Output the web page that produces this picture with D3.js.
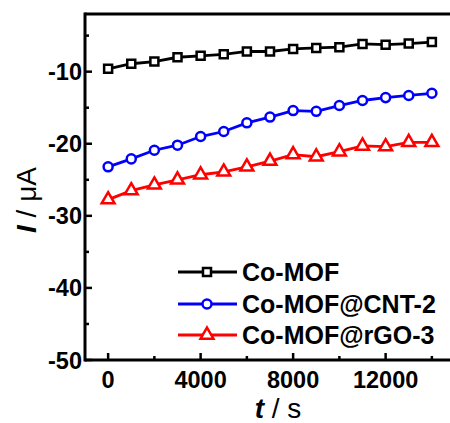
<!DOCTYPE html>
<html><head><meta charset="utf-8">
<script src="https://cdn.jsdelivr.net/npm/d3@7"></script>
<style>body{margin:0;background:#fff}svg{display:block}</style>
</head><body>
<svg id="c" width="450" height="423"></svg>
<script>
const times = [0,1000,2000,3000,4000,5000,6000,7000,8000,9000,10000,11000,12000,13000,14000];
const coMOF = [-9.6,-8.9,-8.6,-8.0,-7.8,-7.6,-7.2,-7.2,-6.85,-6.7,-6.6,-6.15,-6.25,-6.1,-5.9];
const coMOFCNT = [-23.2,-22.1,-20.9,-20.2,-19.0,-18.3,-17.1,-16.3,-15.4,-15.5,-14.7,-14.0,-13.6,-13.3,-13.0];
const coMOFrGO = [-27.75,-26.5,-25.7,-25.0,-24.3,-23.9,-23.2,-22.4,-21.5,-21.8,-21.1,-20.3,-20.4,-19.8,-19.8];
const seriesNames = ["Co-MOF","Co-MOF@CNT-2","Co-MOF@rGO-3"];
const xMajor = [0,4000,8000,12000];
const xMinor = [2000,6000,10000,14000];
const yMajor = [-10,-20,-30,-40,-50];
const yMinor = [-5,-15,-25,-35,-45];

const series = [
  {name: seriesNames[0], values: coMOF, color: "#000000", sym: d3.symbolSquare, size: 64},
  {name: seriesNames[1], values: coMOFCNT, color: "#0000ff", sym: d3.symbolCircle, size: 64},
  {name: seriesNames[2], values: coMOFrGO, color: "#ff0000", sym: d3.symbolTriangle, size: 72}
];

const svg = d3.select("#c");
const L = 85, R = 455, T = 14, B = 360;
const x = d3.scaleLinear().domain([-1000,15000]).range([L,R]);
const y = d3.scaleLinear().domain([-50,-2]).range([B,T]);
const font = "'Liberation Sans', Arial, Helvetica, sans-serif";

// data
const line = d3.line().x((d,i)=>x(times[i])).y(d=>y(d));
series.forEach(s=>{
  svg.append("path").datum(s.values).attr("d", line)
    .attr("fill","none").attr("stroke", s.color).attr("stroke-width", 2.8);
  svg.selectAll(null).data(s.values).enter().append("path")
    .attr("d", d3.symbol().type(s.sym).size(s.size))
    .attr("transform",(d,i)=>`translate(${x(times[i])},${y(d)})`)
    .attr("fill","#fff").attr("stroke", s.color).attr("stroke-width", 2.5);
});

// axes
const ax = svg.append("g");
ax.append("line").attr("x1",L).attr("x2",R).attr("y1",B).attr("y2",B).attr("stroke","#000").attr("stroke-width",3);
ax.append("line").attr("x1",L).attr("x2",R).attr("y1",T).attr("y2",T).attr("stroke","#000").attr("stroke-width",3);
ax.append("line").attr("x1",L).attr("x2",L).attr("y1",T-1.5).attr("y2",B+1.5).attr("stroke","#000").attr("stroke-width",3);

xMajor.forEach(v=>ax.append("line").attr("x1",x(v)).attr("x2",x(v)).attr("y1",B).attr("y2",B-7).attr("stroke","#000").attr("stroke-width",2.5));
xMinor.forEach(v=>ax.append("line").attr("x1",x(v)).attr("x2",x(v)).attr("y1",B).attr("y2",B-4).attr("stroke","#000").attr("stroke-width",2.5));
yMajor.forEach(v=>ax.append("line").attr("x1",L).attr("x2",L+7).attr("y1",y(v)).attr("y2",y(v)).attr("stroke","#000").attr("stroke-width",2.5));
yMinor.forEach(v=>ax.append("line").attr("x1",L).attr("x2",L+4).attr("y1",y(v)).attr("y2",y(v)).attr("stroke","#000").attr("stroke-width",2.5));

xMajor.forEach(v=>ax.append("text").attr("x",x(v)).attr("y",388).attr("text-anchor","middle")
  .attr("font-family",font).attr("font-weight","bold").attr("font-size",23.5).text(v));
yMajor.forEach(v=>ax.append("text").attr("x",L-3).attr("y",y(v)+8.5).attr("text-anchor","end")
  .attr("font-family",font).attr("font-weight","bold").attr("font-size",23.5).text(v));

// axis titles
const xt = svg.append("text").attr("x",278).attr("y",418).attr("text-anchor","middle")
  .attr("font-family",font).attr("font-size",28);
xt.append("tspan").attr("font-weight","bold").attr("font-style","italic").text("t");
xt.append("tspan").text(" / s");
const yt = svg.append("text").attr("transform","translate(36,200) rotate(-90)").attr("text-anchor","middle")
  .attr("font-family",font).attr("font-size",28);
yt.append("tspan").attr("font-weight","bold").attr("font-style","italic").text("I");
yt.append("tspan").text(" / μA");

// legend
const ly = [272, 304, 335];
series.forEach((s,i)=>{
  const g = svg.append("g");
  g.append("line").attr("x1",178).attr("x2",237).attr("y1",ly[i]).attr("y2",ly[i]).attr("stroke",s.color).attr("stroke-width",2.8);
  g.append("path").attr("d", d3.symbol().type(s.sym).size(s.size)).attr("transform",`translate(207,${ly[i]})`)
    .attr("fill","#fff").attr("stroke",s.color).attr("stroke-width",2.5);
  g.append("text").attr("x",242).attr("y",ly[i]+9).attr("font-family",font).attr("font-weight","bold")
    .attr("font-size",25).text(s.name);
});
</script>
</body></html>
